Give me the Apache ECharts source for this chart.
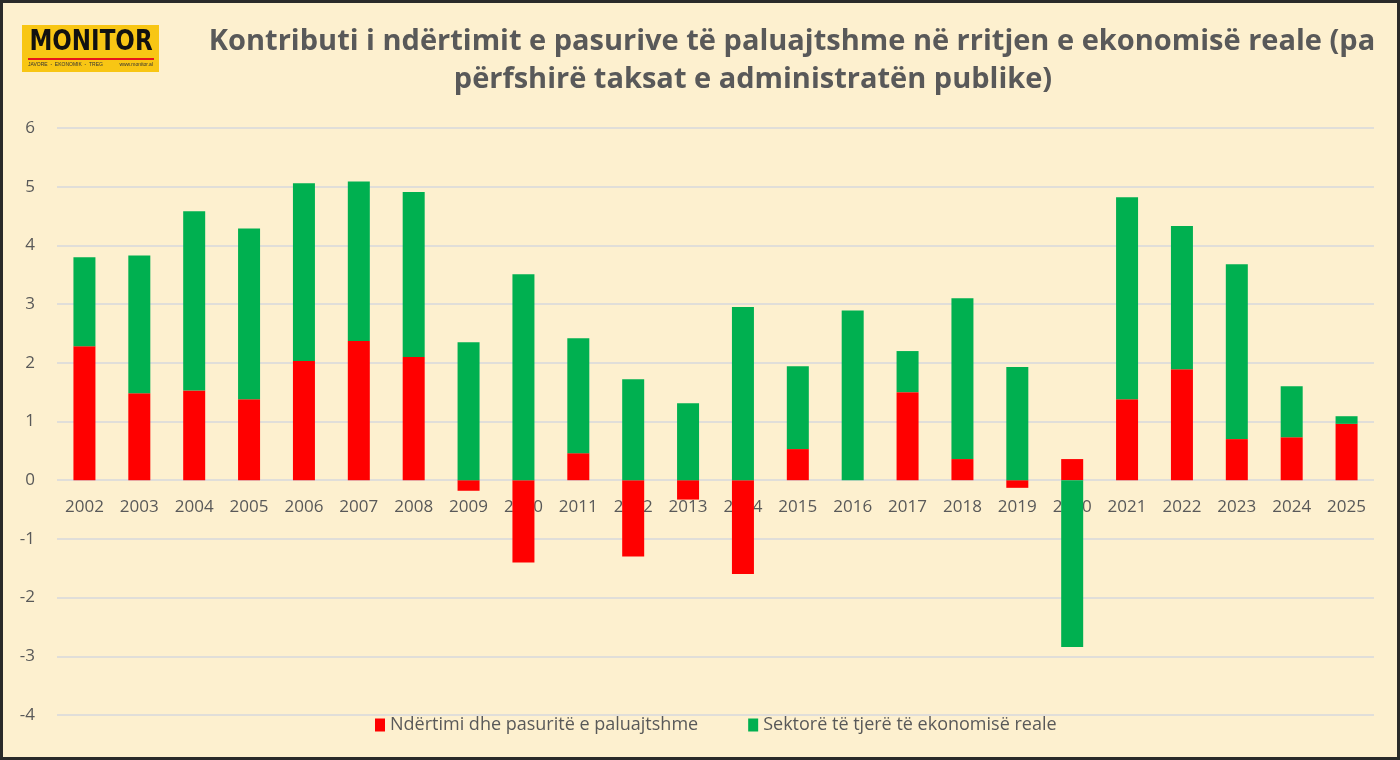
<!DOCTYPE html>
<html>
<head>
<meta charset="utf-8">
<script src="https://cdn.jsdelivr.net/npm/echarts@6/dist/echarts.min.js"></script>
<style>
  html, body { margin: 0; padding: 0; background: #fdf0cf; }
  #chart { width: 1400px; height: 760px; }
</style>
</head>
<body>
<div id="chart"></div>
<script>
// data
var years = ['2002', '2003', '2004', '2005', '2006', '2007', '2008', '2009', '2010', '2011', '2012', '2013',
  '2014', '2015', '2016', '2017', '2018', '2019', '2020', '2021', '2022', '2023', '2024', '2025']
var ndertimi = [2.28, 1.48, 1.53, 1.38, 2.03, 2.37, 2.10, -0.18, -1.40, 0.46, -1.30, -0.33,
  -1.60, 0.53, 0, 1.50, 0.36, -0.13, 0.36, 1.38, 1.89, 0.70, 0.73, 0.96]
var sektore = [1.52, 2.35, 3.05, 2.91, 3.03, 2.72, 2.81, 2.35, 3.51, 1.96, 1.72, 1.31,
  2.95, 1.41, 2.89, 0.70, 2.74, 1.93, -2.84, 3.44, 2.44, 2.98, 0.87, 0.13]
var seriesNames = ['Ndërtimi dhe pasuritë e paluajtshme', 'Sektorë të tjerë të ekonomisë reale']
var titleLine1 = 'Kontributi i ndërtimit e pasurive të paluajtshme në rritjen e ekonomisë reale (pa'
var titleLine2 = 'përfshirë taksat e administratën publike)'

var textColor = '#595959'
var gridColor = '#d6d8dc'
var font = 'Open Sans'

var titleStyle = {
  fontFamily: font,
  fontSize: 29,
  fontWeight: 'bold',
  color: textColor
}

var chart = echarts.init(document.getElementById('chart'))
chart.setOption({
  backgroundColor: '#fdf0cf',
  textStyle: { fontFamily: font },
  title: [
    { text: titleLine1, left: 787, textAlign: 'center', top: 22, textStyle: titleStyle },
    { text: titleLine2, left: 748, textAlign: 'center', top: 60, textStyle: titleStyle }
  ],
  legend: {
    top: 711,
    left: 370,
    itemWidth: 10,
    itemHeight: 13,
    itemGap: 50,
    icon: 'rect',
    textStyle: { fontSize: 18, color: textColor, fontFamily: font },
    data: seriesNames
  },
  grid: { left: 57, right: 26, top: 128, bottom: 45 },
  xAxis: {
    type: 'category',
    data: years,
    offset: -235, // labels sit just under the zero line
    axisLine: { show: false, onZero: false },
    axisTick: { show: false },
    axisLabel: { color: textColor, fontSize: 17, margin: 19 }
  },
  yAxis: {
    type: 'value',
    min: -4,
    max: 6,
    interval: 1,
    axisLine: { show: false },
    axisTick: { show: false },
    axisLabel: { color: textColor, fontSize: 17, margin: 22 },
    splitLine: { lineStyle: { color: gridColor, width: 1.5 } }
  },
  series: [
    {
      name: seriesNames[0],
      type: 'bar',
      stack: 'total',
      barWidth: 22,
      itemStyle: { color: '#ff0000' },
      data: ndertimi
    },
    {
      name: seriesNames[1],
      type: 'bar',
      stack: 'total',
      barWidth: 22,
      itemStyle: { color: '#00b050' },
      data: sektore
    }
  ],
  graphic: [
    // frame round the picture
    {
      type: 'rect',
      shape: { x: 1.5, y: 1.5, width: 1397, height: 757 },
      style: { fill: 'none', stroke: '#2a2a2a', lineWidth: 3 },
      silent: true
    },
    // logo
    {
      type: 'group',
      left: 22,
      top: 25,
      children: [
        { type: 'rect', shape: { x: 0, y: 0, width: 137, height: 47 }, style: { fill: '#f8c614' } },
        {
          type: 'text', x: 69, y: 3, scaleY: 1.25,
          style: { text: 'MONITOR', fill: '#111', font: '900 23px "DejaVu Sans"', textAlign: 'center' }
        },
        { type: 'rect', shape: { x: 6, y: 33, width: 126, height: 2 }, style: { fill: '#e8141b' } },
        {
          type: 'text', x: 6, y: 37,
          style: { text: 'JAVORE  -  EKONOMIK  -  TREG', fill: '#333', font: '5px "Liberation Sans"' }
        },
        {
          type: 'text', x: 131, y: 37,
          style: { text: 'www.monitor.al', fill: '#333', font: '5px "Liberation Sans"', textAlign: 'right' }
        }
      ]
    }
  ]
})
</script>
</body>
</html>
